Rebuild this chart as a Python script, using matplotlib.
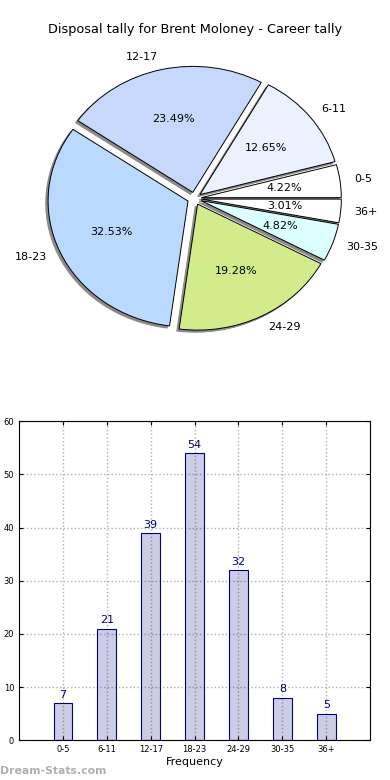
import matplotlib
matplotlib.use("Agg")
import matplotlib.pyplot as plt

categories = ["0-5", "6-11", "12-17", "18-23", "24-29", "30-35", "36+"]
counts = [7, 21, 39, 54, 32, 8, 5]
pie_colors = ["#ffffff", "#ebf1fe", "#c6d9fd", "#b9d9fe", "#d2eb8b", "#dcffff", "#ffffff"]

fig = plt.figure(figsize=(3.9, 7.8), dpi=100)

fig.text(0.5, 1 - 30 / 780, "Disposal tally for Brent Moloney - Career tally",
         ha="center", va="center", fontsize=9.3)

# pie (old-style, not forced circular)
ax1 = fig.add_axes([0.05, 0.5436, 0.897, 0.4038])
wedges, texts, autotexts = ax1.pie(
    counts,
    labels=categories,
    colors=pie_colors,
    explode=[0.05] * len(counts),
    autopct="%.2f%%",
    shadow=dict(ox=-0.012, oy=-0.012, facecolor="#8a8a8a", edgecolor="#8a8a8a", alpha=1),
    startangle=0,
    wedgeprops=dict(edgecolor="black", linewidth=0.7),
    textprops=dict(fontsize=8),
)
ax1.set_aspect("auto")
ax1.set_xlim(-1.25, 1.25)
ax1.set_ylim(-1.25, 1.25)

# bar chart
ax2 = fig.add_axes([0.049, 0.051, 0.9, 0.409])
pos = list(range(1, len(categories) + 1))
ax2.bar(pos, counts, width=0.43, color=(0, 0, 0.5, 0.2), edgecolor="navy", linewidth=0.8, zorder=2)
for x, v in zip(pos, counts):
    ax2.text(x, v + 0.6, str(v), ha="center", va="bottom", color="navy", fontsize=8)

ax2.set_xlim(0, 8)
ax2.set_ylim(0, 60)
ax2.set_xticks(pos)
ax2.set_xticklabels(categories)
ax2.set_yticks(range(0, 61, 10))
ax2.tick_params(labelsize=6, direction="in", top=True, right=True, length=3)
ax2.grid(True, linestyle=":", color="#b0b0b0", linewidth=1)
ax2.set_axisbelow(True)
ax2.set_xlabel("Frequency", fontsize=8, labelpad=2)

fig.text(0.0, 1 - 771 / 780, "Dream-Stats.com", ha="left", va="center",
         fontsize=7.8, color="#b0b0b0", fontweight="bold")

fig.savefig("out.png", dpi=100)
